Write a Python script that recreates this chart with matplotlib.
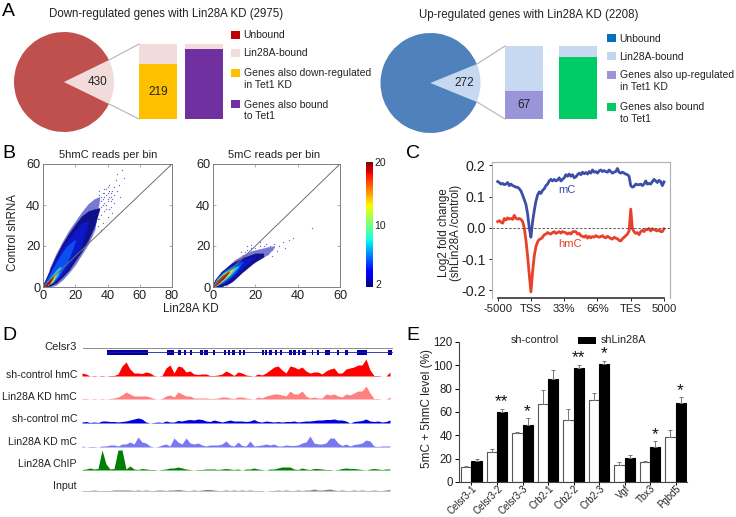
import numpy as np
import matplotlib
matplotlib.use("Agg")
import matplotlib.pyplot as plt
from matplotlib.transforms import ScaledTranslation

plt.rcParams['font.family'] = ['Liberation Sans', 'DejaVu Sans']

W, H = 736, 517

# Panel A
down_total = [2975 - 430, 430]
up_total = [2208 - 272, 272]
down_bar_share = [73, 94]   # % of the bar filled
up_bar_share = [38, 85]

# Panel B, density outlines as x, upper y, lower y, sparse to dense
hmc_level_x = [[4, 8, 12, 16, 20, 24, 28, 32, 35],
               [0, 4, 8, 12, 16, 20, 24, 28, 32, 35],
               [0, 4, 8, 12, 16, 20, 24, 28],
               [0, 3, 6, 9, 12, 15, 18, 20],
               [0.5, 3, 6, 9, 11],
               [0.5, 3, 6, 8.5],
               [0.3, 2, 4, 6.5]]
hmc_level_hi = [[9, 16, 22, 27.5, 32, 36.5, 40.5, 43, 44],
                [1, 8, 15, 21, 26, 30.5, 34.5, 37, 38, 38.5],
                [0.8, 7, 13.5, 19, 23.5, 27.5, 31, 32.5],
                [0.6, 4.6, 9, 13, 17, 20, 22, 23],
                [0.6, 3.2, 6, 9, 10],
                [0.5, 2.8, 5.4, 7.2],
                [0.4, 2.0, 3.8, 5.4]]
hmc_level_lo = [[0, 1, 3.5, 7, 11, 16, 21, 28, 43],
                [0, 0.5, 2, 5, 8.3, 13, 17.5, 23, 30, 38],
                [0, 1, 3, 6, 10, 15, 20, 32],
                [0, 1, 2, 4.5, 8, 12, 18, 22.5],
                [0.3, 1, 2.5, 5.5, 9.5],
                [0.2, 1.0, 2.8, 6.8],
                [0.1, 0.6, 1.8, 5]]
mc_level_x = [[6, 10, 14, 18, 22, 26, 29],
              [0, 1, 4, 8.8, 13.5, 19.8, 23.8],
              [0, 1, 4, 8, 12, 16, 20],
              [0, 2, 5, 8, 11, 14],
              [0.3, 2, 5, 8, 11, 12],
              [0.3, 2, 5, 8, 9.5],
              [0.2, 2, 5, 7.5]]
mc_level_hi = [[9, 13, 15.5, 17.5, 18.5, 19.5, 20],
               [1, 3.6, 7.5, 11.5, 14, 16.4, 16.4],
               [0.9, 3.2, 6.8, 10, 12.5, 14, 14.5],
               [0.8, 4.5, 7.6, 9.8, 11.3, 12.5],
               [0.7, 4, 7, 9, 10, 10.3],
               [0.6, 3.6, 6.5, 8.3, 8.7],
               [0.5, 3.2, 6, 7.5]]
mc_level_lo = [[0.5, 3.5, 7.5, 11, 13.5, 16, 19.5],
               [0, 0, 0.2, 2.6, 7, 12.4, 14.8],
               [0, 0.2, 1, 3.5, 7, 11, 14.3],
               [0, 0.8, 2.2, 4.5, 7.5, 12.2],
               [0.1, 1, 3, 5.5, 8.8, 10],
               [0.1, 1.2, 3.6, 6.5, 8.4],
               [0.1, 1.5, 4.2, 7.2]]
level_colors = ['#7878d4', '#10108a', '#0c18c8', '#0a50f0', '#20c8d8', '#e8d820', '#a00808']

hmc_sparse_x = [28, 30, 31, 32, 33, 33, 34, 35, 35, 36, 36, 37, 37, 38, 38, 39, 39, 40, 40, 41, 41, 42, 43, 44,
                45, 46, 46, 47, 48, 49, 50, 34, 37, 40, 43, 29, 31, 33, 35, 38, 42, 44, 36, 28, 41,
                36, 37, 38, 39, 40, 41, 42, 43, 44, 35, 36, 38, 40, 42, 37, 39]
hmc_sparse_y = [37, 39, 35, 41, 36, 43, 33, 38, 45, 35, 42, 31, 46, 37, 44, 40, 48, 34, 46, 38, 50, 44, 47, 41,
                52, 47, 55, 50, 44, 57, 53, 30, 40, 43, 36, 30, 32, 38, 33, 48, 39, 49, 28, 33, 44,
                39, 43, 41, 45, 42, 47, 46, 43, 45, 47, 44, 46, 49, 42, 40, 38]
mc_sparse_x = [14, 15, 16, 17, 18, 19, 20, 20, 21, 22, 23, 24, 24, 25, 26, 26, 27, 28, 29, 30, 31, 33, 34, 36,
               38, 47, 18, 22, 25, 28, 13, 16]
mc_sparse_y = [15.5, 17, 18, 16, 19, 17.5, 19, 15, 17, 20, 18, 17, 20, 19, 16, 18.5, 20, 18, 21, 17.5, 20, 22, 19, 23,
               24, 29, 20.5, 22, 21, 15, 17, 20]

# Panel C, one value every 0.05 tick spacing from -5000 to 5000
mc_curve = [.148, .145, .14, .142, .138, .14, .145, .135, .14, .135, .133, .13, .13, .125, .118, .105, .09, .075,
            .045, .0, -.03, .02, .055, .085, .105, .115, .11, .12, .125, .135, .14, .15, .155, .15, .155, .15,
            .153, .16, .15, .155, .16, .17, .165, .172, .165, .17, .16, .163, .17, .175, .17, .178, .173, .177,
            .172, .18, .175, .185, .178, .18, .175, .182, .185, .18, .183, .18, .178, .185, .18, .175, .178, .18,
            .19, .178, .175, .178, .175, .172, .17, .165, .135, .13, .133, .14, .138, .138, .14, .135, .14, .15,
            .14, .142, .14, .148, .155, .15, .145, .152, .148, .135, .147]
hmc_curve = [.02, .023, .018, .015, .03, .025, .032, .028, .03, .027, .04, .03, .028, .03, .027, .02, .0, -.04,
             -.09, -.15, -.205, -.14, -.09, -.06, -.045, -.037, -.035, -.03, -.022, -.02, -.015, -.018, -.02,
             -.015, -.012, -.018, -.015, -.012, -.017, -.012, -.014, -.016, -.02, -.016, -.02, -.013, -.012,
             -.012, -.02, -.018, -.025, -.027, -.03, -.025, -.033, -.027, -.032, -.028, -.03, -.025, -.028, -.03,
             -.028, -.025, -.03, -.032, -.027, -.03, -.034, -.036, -.03, -.033, -.035, -.04, -.042, -.035, -.03,
             -.025, -.02, -.01, .06, -.003, -.012, -.018, -.015, -.022, -.012, -.008, -.012, -.005, -.006, -.002,
             -.01, -.003, -.006, -.008, -.01, -.006, -.012, -.012, -.003]
c_ticks = [0, 1, 2, 3, 4, 5]
c_ticklabels = ['-5000', 'TSS', '33%', '66%', 'TES', '5000']

# Panel D, signal every 4 px along the locus
red_track = [3, 2, 0, .5, 0, .5, 0, .5, .5, 2, 10, 14, 7, 3, 3, 2.5, 4, 3, .5, 0, .5, 8, 11, 3, 10, 9, 4, 5, 2, 1.5,
             2, 2, .5, .5, 1, 2, 5, 3, .5, 4, 3, 1, .5, 0, 2, 1, 3, 6, 9, 10, 6, 3, 10, 9, 7, 9, 5, 3, 4, 4, 2, 5, 7,
             8, 3, 3, 7, 8, 9, 11, 11, 17, 6, .5, .5, 0, 0, 4]
pink_track = [.5, .5, 0, .5, 0, .5, 0, .5, 1, 2, 4, 7, 5, 3, 3, 3, 3, 2, .5, 0, .5, 3, 4, 2, 7, 5, 3, 3, 1, 1, 1, 1,
              .5, .5, 1, 2, 2, 1, .5, 2, 2, 1, .5, 0, 2, 1, 3, 4, 5, 5, 4, 3, 8, 5, 5, 8, 3, 1, 2, 1, 1, 5, 4, 5, 3,
              2, 5, 4, 6, 8, 8, 13, 6, .5, .5, 0, 0, 2]
blue_track = [1, 1.5, .5, 1, .5, 2, 2, 1.5, 1.5, 1, 1.5, 2, 3, 4, 5, 4, 1, 0, .5, 1, .5, 2, 1, 1, 2.5, 2, 3, 3.5, 3,
              4, 3.5, 2, 1.5, 3, 2, 1, 2, 3, 2, 2, 2, 1.5, 2, 3.5, 1.5, 1, 2, 1.5, 1, 1.5, 1, 1.5, 1.5, 2, 1, 1.5,
              2, 2, 2.5, 3, 3, 3.5, 3.5, 4, 3, 3, 2, 0, 1.5, 2, 2.5, 4, 2, 1.5, 2, 1, 1.5, 3]
lavender_track = [1, 0, .5, .5, 0, 1, 1, 2, 2, 1, 3, 3, 5, 3, 10, 5, 4, 1, 0, .5, 2, 3, 1, 9, 5, 3, 9, 4, 3, 4, 2, 1,
                  2, 2, 2, 3, 6, 2, 1, 5, 1.5, 1, 6, 1, 1.5, 2, 3, 2, 3, 1, 1, 2, 1.5, 1.5, 2, 4, 5, 11, 4, 3, 3, 4,
                  9, 9, 4, 1.5, 3, 1, 2.5, 3, 4, 7, 6, 1, .5, 1, 1, 1]
green_track = [.5, 1, 2, 1, 1.5, 20, 6, 1, 1.5, 20, 20, 1, 4, 1, .5, 1.5, 1, .5, .5, 0, .5, 1, 2, 2, 3, 2, 1, .5, 0,
               .5, .5, 1, 1, 1, .5, 1, 1.5, 1, .5, 1, 0, 1, 1, 2, 1, .5, 0, 1, 1, 2, 3, 3, 3, 1, .5, 2, 1, .5, 1.5,
               1.5, 1, .5, .5, 0, .5, 1.5, 2, 1.5, 1.5, 1, .5, 0, 1, 1.5, 1, .5, 1, 1]
gray_track = [.5, .5, .5, 1, .5, .5, .5, .5, 1, 1, 1, 1, 1, .5, 1, .5, 1, .5, .5, 1, 1, .5, 1, 1, 1.5, 1, .5, .5, 1,
              .5, 1, 1.5, 1.5, 1, .5, .5, 1, .5, 1, .5, 1, .5, 1, .5, .5, .5, 0, .5, .5, 1, .5, 1, .5, .5, 1, .5, 1,
              1, 2, 1, 1, 1.5, 2, 1, .5, 1, .5, .5, 1, .5, 1, .5, .5, 1, .5, .5, 1, 1.5]
track_names = ['sh-control hmC', 'Lin28A KD hmC', 'sh-control mC', 'Lin28A KD mC', 'Lin28A ChIP', 'Input']
track_colors = ['#ff0000', '#ff8080', '#0000e0', '#7878f0', '#008000', '#808080']
exon_start = [107, 167, 178, 184, 190, 200, 204, 213, 224, 228, 232, 239, 243, 262, 265, 269, 275, 280, 289, 293,
              298, 302, 312, 317, 325, 328, 337, 345, 357, 388]
exon_width = [41, 7, 2.5, 1.5, 2, 2.5, 4, 2, 1.5, 1.5, 3, 1.5, 1.5, 1.5, 1.5, 2.5, 1.5, 2, 2.5, 3, 1.5, 4, 1, 1.5,
              2.5, 2, 1.5, 3, 10, 4]

# Panel E
genes = ['Celsr3-1', 'Celsr3-2', 'Celsr3-3', 'Crb2-1', 'Crb2-2', 'Crb2-3', 'Vgf', 'Tbx3', 'Pgbd5']
control = [12.5, 26, 42, 67, 53, 70, 14.5, 17.5, 39]
control_err = [1.5, 2.5, 1, 12, 10, 6, 2.5, 0.3, 6]
lin28a = [18, 60, 49, 88, 98, 101, 21, 30, 68]
lin28a_err = [1.5, 3, 5.5, 8, 2.5, 3, 2, 5, 4.5]
stars = ['', '**', '*', '', '**', '*', '', '*', '*']

fig = plt.figure(figsize=(W / 100, H / 100), dpi=100)


def px_axes(x0, y0, x1, y1, **kw):
    # axes from pixel box, y measured from the top of the picture
    return fig.add_axes([x0 / W, 1 - y1 / H, (x1 - x0) / W, (y1 - y0) / H], **kw)


# overlay in picture pixels for labels and connectors
page = px_axes(0, 0, W, H)
page.set_xlim(0, W)
page.set_ylim(H, 0)
page.axis('off')
page.set_zorder(10)


def label(x, y, s, size=8, ha='left', **kw):
    page.text(x, y, s, fontsize=size, ha=ha, va='center', color=kw.pop('color', '#222222'), **kw)


for x, y, s in [(2, 11, 'A'), (2, 154, 'B'), (406, 154, 'C'), (2, 336, 'D'), (406, 336, 'E')]:
    label(x, y, s, size=14, color='black')

# --- A
def panel_a(cx, cy, total, colors, bar1_x, bar2_x, bar_top, shares, bar_colors, count, small):
    ax = px_axes(cx - 50, cy - 50, cx + 50, cy + 50)
    half = total[1] / sum(total) * 180
    ax.pie(total[::-1], colors=colors[::-1], startangle=-half, radius=1.0)
    ax.set_xlim(-1, 1)
    ax.set_ylim(-1, 1)
    ex = cx + 50 * np.cos(np.deg2rad(half))
    ey = 50 * np.sin(np.deg2rad(half))
    page.plot([ex, bar1_x], [cy - ey, bar_top], color='#b5b5b5', lw=0.8)
    page.plot([ex, bar1_x], [cy + ey, 119], color='#b5b5b5', lw=0.8)
    label(cx + 34, cy, count, ha='center', size=8.5)
    for bx, share, c in zip([bar1_x, bar2_x], shares, bar_colors):
        bar = px_axes(bx, bar_top, bx + 38, 119)
        bar.bar([0], [100], width=1, color=colors[1])
        bar.bar([0], [share], width=1, color=c)
        bar.set_xlim(-.5, .5)
        bar.set_ylim(0, 100)
        bar.axis('off')
    label(bar1_x + 19, 119 - (119 - bar_top) * shares[0] / 200, small, ha='center', size=8.5)


panel_a(64, 82, down_total, ['#c0504d', '#f2dcdb'], 139, 185, 44, down_bar_share, ['#ffc000', '#7030a0'], '430', '219')
panel_a(430.5, 83, up_total, ['#4f81bd', '#c6d9f1'], 505, 559, 46, up_bar_share, ['#9a94d8', '#00cc66'], '272', '67')
label(49, 14, 'Down-regulated genes with Lin28A KD (2975)', size=8.3)
label(419, 15, 'Up-regulated genes with Lin28A KD (2208)', size=8.3)

for x, colors, rows in [
    (231, ['#c00000', '#f2dcdb', '#ffc000', '#7030a0'],
     [(35, 'Unbound'), (53, 'Lin28A-bound'), (73, 'Genes also down-regulated\nin Tet1 KD'), (104, 'Genes also bound\nto Tet1')]),
    (607, ['#0070c0', '#bdd7ee', '#9a94d8', '#00cc66'],
     [(38, 'Unbound'), (56, 'Lin28A-bound'), (75, 'Genes also up-regulated\nin Tet1 KD'), (107, 'Genes also bound\nto Tet1')]),
]:
    for c, (y, s) in zip(colors, rows):
        page.fill_between([x, x + 8.5], y - 4, y + 4, color=c, lw=0)
        page.text(x + 12.5, y - 4.5, s, fontsize=7.5, va='top', color='#222222', linespacing=1.22)

# --- B
def density(box, xmax, lx, hi, lo, sx, sy, ticks):
    ax = px_axes(*box)
    ax.scatter(sx, sy, s=0.9, color='#6a6ac8', lw=0, zorder=2)
    for x, h, l, c in zip(lx, hi, lo, level_colors):
        ax.fill_between(x, l, h, color=c, lw=0.3, zorder=2)
    ax.plot([0, xmax], [0, 60], color='#707070', lw=0.7, zorder=3)
    ax.set_xlim(0, xmax)
    ax.set_ylim(0, 60)
    ax.set_xticks(ticks)
    ax.set_yticks([0, 20, 40, 60])
    ax.tick_params(direction='in', length=2, width=0.5, color='#909090', labelsize=9.2, pad=2,
                   top=True, right=True, labelcolor='#222222')
    for s in ax.spines.values():
        s.set_color('#808080')
        s.set_linewidth(0.7)
    return ax


density((43, 164, 172, 287), 80, hmc_level_x, hmc_level_hi, hmc_level_lo, hmc_sparse_x, hmc_sparse_y, [0, 20, 40, 60, 80])
density((213, 164, 340, 287), 60, mc_level_x, mc_level_hi, mc_level_lo, mc_sparse_x, mc_sparse_y, [0, 20, 40, 60])
label(108, 155, '5hmC reads per bin', ha='center', size=8)
label(274, 155, '5mC reads per bin', ha='center', size=8)
label(191, 309, 'Lin28A KD', ha='center', size=8.5)
label(13, 233, 'Control shRNA', ha='center', size=8.3, rotation=90)

cbar = px_axes(366, 162, 373, 287)
cbar.imshow(np.linspace(1, 0, 256)[:, None], cmap='jet', aspect='auto', extent=[0, 1, 2, 20])
cbar.axis('off')
label(374, 163, '20', size=7.5)
label(374, 226, '10', size=7.5)
label(375, 285, '2', size=7.5)

# --- C
ax = px_axes(492, 162, 670, 298)
ax.plot(np.arange(len(mc_curve)) * 0.05, mc_curve, color='#3c4ea8', lw=2)
ax.plot(np.arange(len(hmc_curve)) * 0.05, hmc_curve, color='#e8402a', lw=2)
ax.axhline(0, color='#444444', lw=0.6, ls=(0, (3, 2)))
ax.set_xlim(-0.17, 5.18)
ax.set_ylim(-0.2244, 0.2106)
ax.set_xticks(c_ticks)
ax.set_xticklabels(c_ticklabels)
ax.set_yticks([-0.2, -0.1, 0, 0.1, 0.2])
ax.set_yticklabels(['-0.2', '-0.1', '0.0', '0.1', '0.2'])
ax.tick_params(length=2.5, width=0.6, pad=2, labelcolor='#222222')
ax.tick_params(axis='x', labelsize=8.1)
ax.tick_params(axis='y', labelsize=10.3)
for s in ax.spines.values():
    s.set_color('#b0b0b0')
ax.spines['bottom'].set_bounds(0, 5)
ax.spines['bottom'].set_color('#333333')
ax.spines['bottom'].set_linewidth(1.2)
label(567, 190, 'mC', ha='center', size=8, color='#3c4ea8')
label(570, 244, 'hmC', ha='center', size=8, color='#e8402a')
label(450, 233, 'Log2 fold change\n(shLin28A /control)', ha='center', size=8.3, rotation=90, linespacing=1.1)

# --- D
tracks = [red_track, pink_track, blue_track, lavender_track, green_track, gray_track]
baselines = [376, 399, 423, 447, 470, 491]
name_y = [375, 397, 419, 442, 464, 486]
for vals, base, name, ny, c in zip(tracks, baselines, track_names, name_y, track_colors):
    tr = px_axes(82, base - 22, 392, base)
    tr.fill_between(82 + 4 * np.arange(len(vals)), 0, vals, color=c, lw=0)
    tr.axhline(0.2, color=c, lw=0.5, alpha=0.5)
    tr.set_xlim(82, 392)
    tr.set_ylim(0, 22)
    tr.axis('off')
    label(77, ny, name, ha='right', size=7.6)
label(77, 347, 'Celsr3', ha='right', size=8)

page.plot([82.5, 392], [348, 348], color='#8c8c8c', lw=0.7)
page.plot([107, 392], [352, 352], color='#1a1ab0', lw=0.6)
page.broken_barh(list(zip(exon_start, exon_width)), (350, 4.5), color='#0000a0', lw=0)

# --- E
ax = px_axes(459, 342, 687, 482)
pos = np.arange(len(genes))
ax.bar(pos - 0.2, control, 0.4, color='white', edgecolor='#555555', lw=0.8,
       yerr=[np.zeros(9), control_err], error_kw=dict(ecolor='#777777', lw=0.7, capsize=1.5, capthick=0.7))
ax.bar(pos + 0.2, lin28a, 0.4, color='black', edgecolor='black', lw=0.8,
       yerr=[np.zeros(9), lin28a_err], error_kw=dict(ecolor='#777777', lw=0.7, capsize=1.5, capthick=0.7))
for p, v, e, s in zip(pos, lin28a, lin28a_err, stars):
    if s:
        ax.text(p + 0.18, v + e + 6, s, ha='center', va='center', fontsize=12.5, color='#111111')
ax.set_xlim(-0.49, 8.45)
ax.set_ylim(0, 120)
ax.set_yticks(range(0, 121, 20))
ax.set_xticks(pos)
ax.set_xticklabels(genes, rotation=45, ha='right', va='center', rotation_mode='anchor')
ax.tick_params(axis='y', labelsize=8.3, length=3, width=0.7, pad=1.5, labelcolor='#222222')
ax.tick_params(axis='x', labelsize=6.9, length=2, width=0.7, pad=1.5, labelcolor='#222222')
for t in ax.get_xticklabels():
    t.set_transform(t.get_transform() + ScaledTranslation(4 / 100, 0, fig.dpi_scale_trans))
for s in ['top', 'right']:
    ax.spines[s].set_visible(False)
ax.spines['left'].set_color('#444444')
ax.spines['bottom'].set_color('#444444')
label(511, 340, 'sh-control', size=7.8)
page.fill_between([578, 596], 337, 344, color='black', lw=0)
label(601, 340, 'shLin28A', size=7.8)
label(427, 408, '5mC + 5hmC level (%)', ha='center', size=8.5, rotation=90)

fig.savefig('out.png', dpi=100)
